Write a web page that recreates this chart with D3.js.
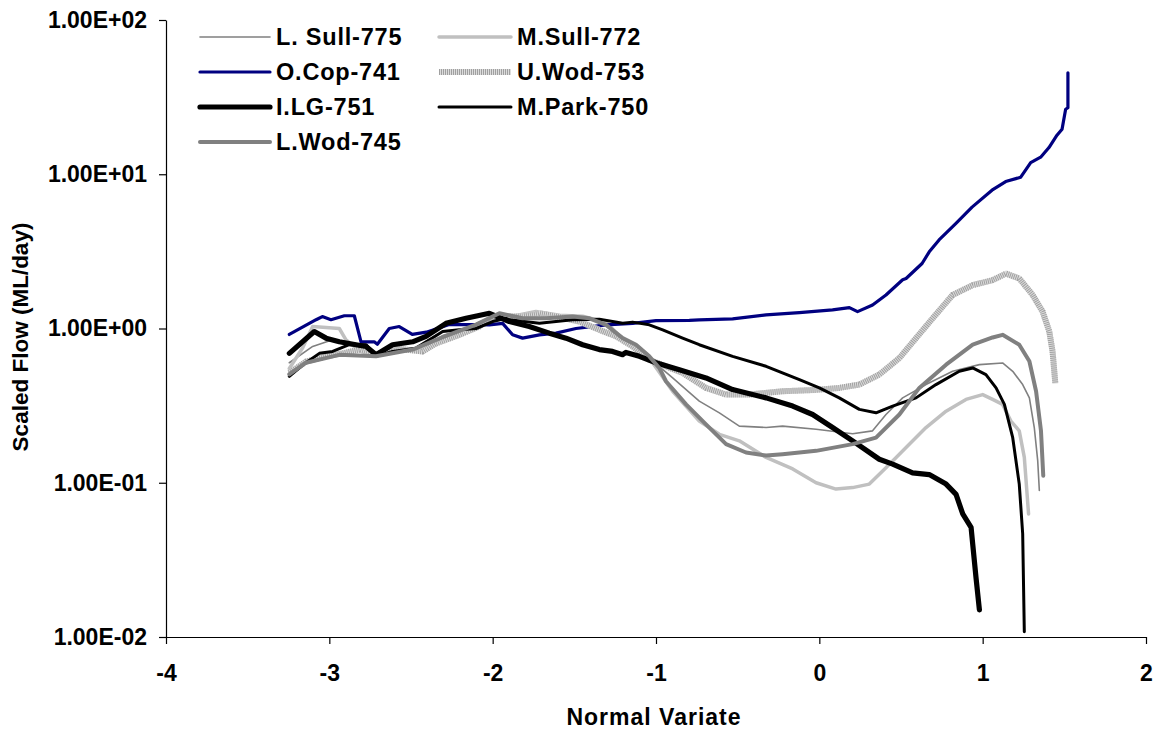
<!DOCTYPE html>
<html>
<head>
<meta charset="utf-8">
<script src="https://cdn.jsdelivr.net/npm/d3@7"></script>
<style>
  html, body { margin: 0; padding: 0; background: #fff; }
  svg text { font-family: "Liberation Sans", Arial, sans-serif; font-weight: bold; fill: #000; }
</style>
</head>
<body>
<svg id="chart" width="1160" height="731"></svg>
<script>
// ---------- data ----------
const seriesNames = ["L. Sull-775", "M.Sull-772", "O.Cop-741", "U.Wod-753", "I.LG-751", "M.Park-750", "L.Wod-745"];

const lSull775 = [[-3.245,0.6],[-3.102,0.765],[-2.98,0.845],[-2.919,0.82],[-2.806,0.74],[-2.714,0.68],[-2.572,0.72],[-2.429,0.74],[-2.306,0.90],[-2.163,1.0],[-2.02,1.18],[-1.878,1.15],[-1.714,1.17],[-1.51,1.16],[-1.347,1.12],[-1.245,0.95],[-1.143,0.746],[-1.041,0.643],[-0.898,0.478],[-0.735,0.338],[-0.612,0.284],[-0.49,0.233],[-0.326,0.228],[-0.225,0.233],[-0.02,0.222],[0.204,0.208],[0.326,0.217],[0.408,0.277],[0.51,0.355],[0.653,0.433],[0.816,0.528],[0.98,0.583],[1.122,0.598],[1.184,0.528],[1.245,0.433],[1.286,0.355],[1.316,0.228],[1.337,0.139],[1.347,0.089]];

const mSull772 = [[-3.245,0.55],[-3.163,0.75],[-3.102,1.03],[-2.939,1.0],[-2.898,0.845],[-2.837,0.75],[-2.714,0.67],[-2.572,0.73],[-2.429,0.73],[-2.306,0.85],[-2.163,0.98],[-2.02,1.15],[-1.878,1.2],[-1.735,1.29],[-1.59,1.22],[-1.449,1.2],[-1.306,1.1],[-1.204,0.85],[-1.041,0.643],[-0.898,0.392],[-0.735,0.251],[-0.612,0.206],[-0.49,0.187],[-0.326,0.146],[-0.163,0.123],[-0.02,0.10],[0.102,0.091],[0.204,0.093],[0.306,0.098],[0.408,0.125],[0.531,0.169],[0.653,0.228],[0.776,0.291],[0.898,0.347],[1.0,0.373],[1.061,0.347],[1.122,0.322],[1.173,0.251],[1.224,0.217],[1.255,0.146],[1.281,0.0628]];

const oCop741 = [[-3.245,0.915],[-3.081,1.14],[-3.043,1.195],[-2.99,1.14],[-2.908,1.21],[-2.847,1.21],[-2.806,0.82],[-2.725,0.82],[-2.706,0.79],[-2.633,1.0],[-2.572,1.03],[-2.492,0.915],[-2.406,0.947],[-2.266,1.06],[-2.102,1.06],[-2.02,1.056],[-1.939,1.08],[-1.878,0.91],[-1.817,0.866],[-1.714,0.91],[-1.612,0.933],[-1.49,1.0],[-1.306,1.056],[-1.143,1.08],[-1.0,1.126],[-0.796,1.13],[-0.735,1.138],[-0.531,1.155],[-0.326,1.226],[-0.122,1.268],[0.081,1.32],[0.184,1.366],[0.234,1.287],[0.326,1.42],[0.408,1.65],[0.51,2.07],[0.531,2.11],[0.629,2.64],[0.673,3.14],[0.733,3.75],[0.835,4.78],[0.935,6.12],[1.057,7.88],[1.141,8.97],[1.233,9.57],[1.294,11.9],[1.355,12.9],[1.406,14.9],[1.455,17.9],[1.486,19.6],[1.508,26.4],[1.522,27],[1.522,45.5]];

const uWod753 = [[-3.245,0.515],[-3.143,0.61],[-3.02,0.66],[-2.919,0.69],[-2.816,0.73],[-2.714,0.676],[-2.613,0.746],[-2.429,0.71],[-2.347,0.80],[-2.204,0.91],[-2.082,1.03],[-2.02,1.15],[-1.918,1.195],[-1.817,1.195],[-1.714,1.255],[-1.612,1.195],[-1.469,1.11],[-1.347,0.98],[-1.245,0.89],[-1.143,0.765],[-1.041,0.628],[-0.837,0.515],[-0.694,0.412],[-0.571,0.373],[-0.429,0.373],[-0.225,0.392],[-0.02,0.40],[0.122,0.412],[0.245,0.433],[0.367,0.503],[0.49,0.643],[0.592,0.866],[0.694,1.165],[0.816,1.65],[0.939,1.91],[1.061,2.06],[1.143,2.27],[1.224,2.11],[1.306,1.65],[1.367,1.287],[1.408,0.956],[1.428,0.71],[1.445,0.44]];

const iLG751 = [[-3.245,0.69],[-3.092,0.955],[-3.02,0.866],[-2.939,0.82],[-2.837,0.785],[-2.775,0.765],[-2.714,0.676],[-2.613,0.785],[-2.49,0.82],[-2.408,0.89],[-2.286,1.08],[-2.163,1.165],[-2.02,1.255],[-1.898,1.11],[-1.776,1.03],[-1.653,0.933],[-1.551,0.866],[-1.449,0.785],[-1.347,0.73],[-1.266,0.71],[-1.204,0.676],[-1.184,0.70],[-1.102,0.66],[-1.0,0.60],[-0.857,0.54],[-0.694,0.478],[-0.531,0.402],[-0.326,0.355],[-0.163,0.314],[-0.041,0.277],[0.081,0.228],[0.204,0.187],[0.367,0.142],[0.449,0.132],[0.571,0.116],[0.673,0.113],[0.776,0.098],[0.837,0.084],[0.878,0.0628],[0.929,0.0514],[0.939,0.0401],[0.959,0.0244],[0.98,0.015]];

const mPark750 = [[-3.245,0.49],[-3.163,0.58],[-3.061,0.69],[-2.98,0.71],[-2.878,0.785],[-2.775,0.785],[-2.714,0.66],[-2.613,0.71],[-2.469,0.746],[-2.306,0.955],[-2.204,0.98],[-2.102,1.0],[-2.0,1.11],[-1.918,1.165],[-1.898,1.138],[-1.714,1.08],[-1.51,1.138],[-1.347,1.15],[-1.266,1.11],[-1.204,1.08],[-1.143,1.10],[-1.041,1.056],[-0.959,0.98],[-0.837,0.866],[-0.735,0.785],[-0.531,0.66],[-0.326,0.569],[-0.122,0.466],[0,0.412],[0.122,0.355],[0.245,0.299],[0.347,0.284],[0.449,0.314],[0.592,0.355],[0.714,0.433],[0.857,0.528],[0.939,0.555],[1.02,0.503],[1.082,0.412],[1.133,0.322],[1.184,0.196],[1.224,0.098],[1.245,0.0467],[1.255,0.0108]];

const lWod745 = [[-3.245,0.505],[-3.143,0.60],[-2.939,0.675],[-2.714,0.66],[-2.49,0.73],[-2.306,0.88],[-2.102,1.06],[-1.959,1.255],[-1.817,1.165],[-1.673,1.165],[-1.51,1.195],[-1.408,1.165],[-1.306,1.056],[-1.204,0.866],[-1.122,0.785],[-1.041,0.66],[-0.98,0.555],[-0.939,0.455],[-0.816,0.322],[-0.694,0.239],[-0.571,0.178],[-0.449,0.157],[-0.326,0.15],[-0.225,0.153],[-0.02,0.161],[0.204,0.178],[0.347,0.196],[0.49,0.277],[0.612,0.412],[0.776,0.583],[0.939,0.785],[1.061,0.875],[1.122,0.91],[1.224,0.785],[1.286,0.613],[1.327,0.392],[1.357,0.217],[1.371,0.111]];

const seriesValues = [lSull775, mSull772, oCop741, uWod753, iLG751, mPark750, lWod745];

const xTickValues = [-4, -3, -2, -1, 0, 1, 2];
const xTickLabels = ["-4", "-3", "-2", "-1", "0", "1", "2"];
const yTickValues = [0.01, 0.1, 1, 10, 100];
const yTickLabels = ["1.00E-02", "1.00E-01", "1.00E+00", "1.00E+01", "1.00E+02"];
const xTitle = "Normal Variate";
const yTitle = "Scaled Flow (ML/day)";

// ---------- styles ----------
const styles = [
  { stroke: "#808080", width: 1.6 },
  { stroke: "#c0c0c0", width: 3.5 },
  { stroke: "#000080", width: 3.2 },
  { stroke: "#a0a0a0", width: 6, hatch: true },
  { stroke: "#000000", width: 5.2 },
  { stroke: "#000000", width: 3 },
  { stroke: "#808080", width: 4 }
];

// ---------- layout ----------
const svg = d3.select("#chart");
const L = 166, R = 1146, T = 20, B = 637;

const x = d3.scaleLinear().domain([-4, 2]).range([L, R]);
const y = d3.scaleLog().domain([0.01, 100]).range([B, T]);

// Axes
const yAxis = d3.axisLeft(y).tickValues(yTickValues)
  .tickFormat((d, i) => yTickLabels[i]).tickSize(7).tickSizeOuter(0).tickPadding(12);
const xAxis = d3.axisBottom(x).tickValues(xTickValues)
  .tickFormat((d, i) => xTickLabels[i]).tickSize(7).tickSizeOuter(0).tickPadding(21);

const gy = svg.append("g").attr("transform", `translate(${L},0)`).call(yAxis);
const gx = svg.append("g").attr("transform", `translate(0,${B})`).call(xAxis);
[gx, gy].forEach(g => {
  g.selectAll("path.domain").attr("stroke", "#000").attr("stroke-width", 1.2);
  g.selectAll(".tick line").attr("stroke", "#000").attr("stroke-width", 1.2);
  g.selectAll("text").attr("font-size", 23).attr("font-family", '"Liberation Sans", Arial, sans-serif')
    .attr("font-weight", "bold").attr("fill", "#000");
});

// Axis titles
svg.append("text").attr("x", (L + R) / 2 - 2).attr("y", 725).attr("text-anchor", "middle")
  .attr("font-size", 23).attr("letter-spacing", 1).text(xTitle);
svg.append("text").attr("transform", "translate(28,337) rotate(-90)").attr("text-anchor", "middle")
  .attr("font-size", 22.5).text(yTitle);

// Lines
const line = d3.line().x(d => x(d[0])).y(d => y(d[1]));
const plot = svg.append("g");

function drawPath(g, pathD, st) {
  if (st.hatch) {
    g.append("path").attr("d", pathD).attr("fill", "none")
      .attr("stroke", "#dcdcdc").attr("stroke-width", st.width)
      .attr("stroke-linejoin", "round");
    g.append("path").attr("d", pathD).attr("fill", "none")
      .attr("stroke", st.stroke).attr("stroke-width", st.width)
      .attr("stroke-dasharray", "1,1");
  } else {
    g.append("path").attr("d", pathD).attr("fill", "none")
      .attr("stroke", st.stroke).attr("stroke-width", st.width)
      .attr("stroke-linejoin", "round").attr("stroke-linecap", "round");
  }
}

seriesValues.forEach((vals, i) => drawPath(plot, line(vals), styles[i]));

// Legend (two columns, row-wise order)
const legendCols = [{ x1: 200, x2: 270, tx: 276 }, { x1: 439, x2: 511, tx: 517 }];
const legendRows = [37, 72, 107, 142];
const legend = svg.append("g");
seriesNames.forEach((name, i) => {
  const c = legendCols[i % 2], r = legendRows[Math.floor(i / 2)];
  drawPath(legend, `M${c.x1},${r}L${c.x2},${r}`, styles[i]);
  legend.append("text").attr("x", c.tx).attr("y", r).attr("dy", "0.36em")
    .attr("font-size", 23.5).attr("letter-spacing", 0.8).text(name);
});
</script>
</body>
</html>
